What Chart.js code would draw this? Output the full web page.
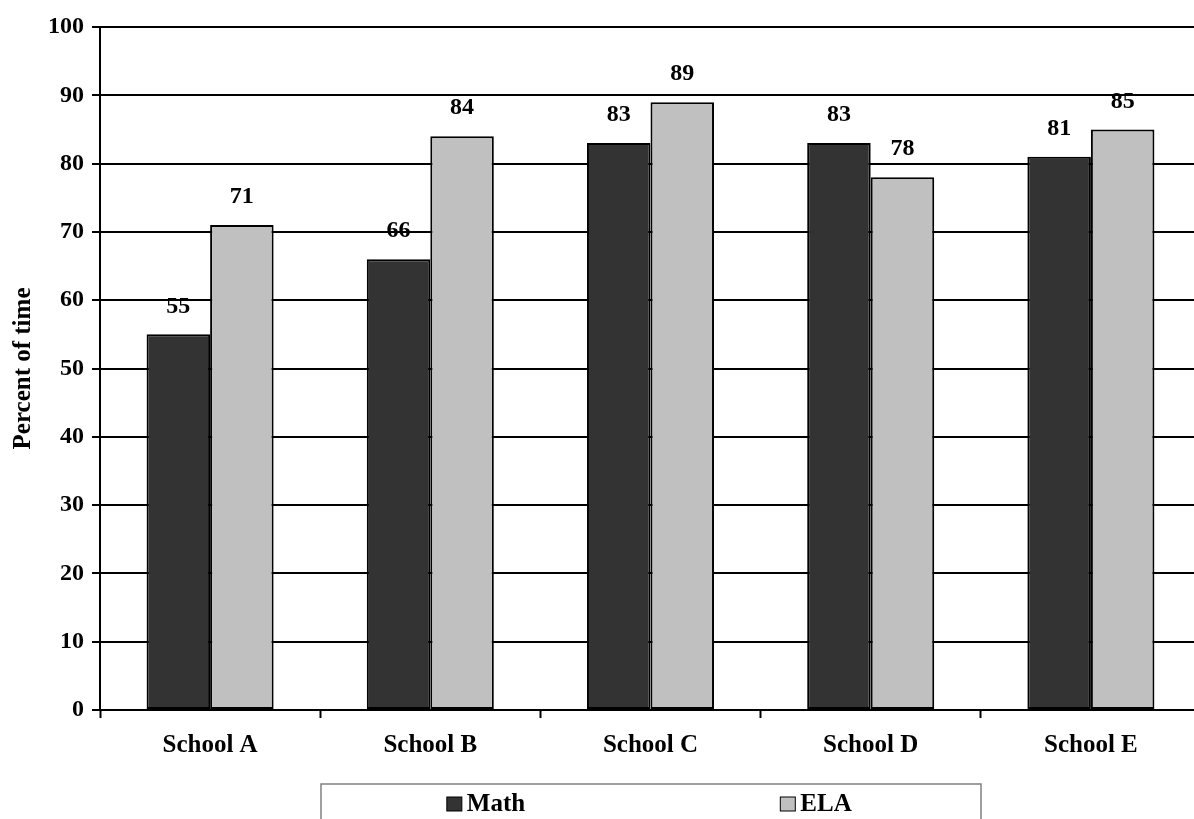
<!DOCTYPE html>
<html>
<head>
<meta charset="utf-8">
<script src="https://cdn.jsdelivr.net/npm/chart.js@4"></script>
<style>
    body { margin: 0; overflow: hidden; background: #fff; }
    #wrap { width: 1202px; height: 819px; position: relative; }
</style>
</head>
<body>
<div id="wrap"><canvas id="chart"></canvas></div>
<script>
// chart values
const schools = ['School A', 'School B', 'School C', 'School D', 'School E'];
const mathValues = [55, 66, 83, 83, 81];
const elaValues = [71, 84, 89, 78, 85];
const yMin = 0;
const yMax = 100;
const yStep = 10;

const FONT = "'Liberation Serif', 'Times New Roman', serif";

// value labels above each bar
const barLabels = {
    id: 'barLabels',
    afterDatasetsDraw(chart) {
        const ctx = chart.ctx;
        ctx.save();
        ctx.font = 'bold 24px ' + FONT;
        ctx.fillStyle = '#000';
        ctx.textAlign = 'center';
        ctx.textBaseline = 'bottom';
        chart.data.datasets.forEach((ds, i) => {
            chart.getDatasetMeta(i).data.forEach((bar, j) => {
                ctx.fillText(ds.data[j], bar.x, bar.y - 16);
            });
        });
        ctx.restore();
    }
};

// boxed legend at the bottom, two columns
const boxLegend = {
    id: 'boxLegend',
    afterDraw(chart) {
        const ctx = chart.ctx;
        const left = 321, top = 784, width = 660, height = 60;
        ctx.save();
        ctx.strokeStyle = '#808080';
        ctx.lineWidth = 1.5;
        ctx.strokeRect(left, top, width, height);
        ctx.font = 'bold 25px ' + FONT;
        ctx.textBaseline = 'middle';
        const sets = chart.data.datasets;
        const colW = width / sets.length;
        sets.forEach((ds, i) => {
            const textW = ctx.measureText(ds.label).width;
            const itemW = 15 + 5 + textW;
            const x0 = left + colW * i + (colW - itemW) / 2;
            const cy = 804;
            ctx.fillStyle = ds.backgroundColor;
            ctx.fillRect(x0, cy - 7, 15, 14);
            ctx.strokeStyle = '#000';
            ctx.lineWidth = 1;
            ctx.strokeRect(x0, cy - 7, 15, 14);
            ctx.fillStyle = '#000';
            ctx.textAlign = 'left';
            ctx.fillText(ds.label, x0 + 20, cy + 1);
        });
        ctx.restore();
    }
};

const ctx = document.getElementById('chart').getContext('2d');
const myChart = new Chart(ctx, {
    type: 'bar',
    data: {
        labels: schools,
        datasets: [{
            label: 'Math',
            data: mathValues,
            backgroundColor: '#333333',
            borderColor: '#000',
            borderWidth: 2,
            borderSkipped: false,
        }, {
            label: 'ELA',
            data: elaValues,
            backgroundColor: '#c0c0c0',
            borderColor: '#000',
            borderWidth: 2,
            borderSkipped: false,
        }]
    },
    plugins: [barLabels, boxLegend],
    options: {
        responsive: true,
        maintainAspectRatio: false,
        animation: false,
        layout: {
            padding: { top: 27, left: 0, right: 1, bottom: 0 }
        },
        datasets: {
            bar: {
                categoryPercentage: 0.577,
                barPercentage: 1.0,
            }
        },
        plugins: {
            legend: { display: false },
            tooltip: { enabled: false },
        },
        scales: {
            x: {
                afterFit(scale) { scale.height = 109; },
                grid: {
                    drawOnChartArea: false,
                    drawTicks: true,
                    tickLength: 8,
                    tickColor: '#000',
                    tickWidth: 2,
                    offset: true,
                },
                border: { display: true, color: '#000', width: 2 },
                ticks: {
                    color: '#000',
                    padding: 13,
                    font: { family: FONT, size: 25, weight: 'bold' },
                    maxRotation: 0,
                }
            },
            y: {
                min: yMin,
                max: yMax,
                afterFit(scale) { scale.width = 100; },
                grid: {
                    color: '#000',
                    lineWidth: 2,
                    drawTicks: true,
                    tickLength: 8,
                    tickColor: '#000',
                },
                border: { display: true, color: '#000', width: 2 },
                ticks: {
                    stepSize: yStep,
                    color: '#000',
                    padding: 8,
                    font: { family: FONT, size: 24, weight: 'bold' },
                },
                title: {
                    display: true,
                    text: 'Percent of time',
                    color: '#000',
                    padding: { top: 9, bottom: 0 },
                    font: { family: FONT, size: 25, weight: 'bold' },
                }
            }
        }
    }
});
</script>
</body>
</html>
